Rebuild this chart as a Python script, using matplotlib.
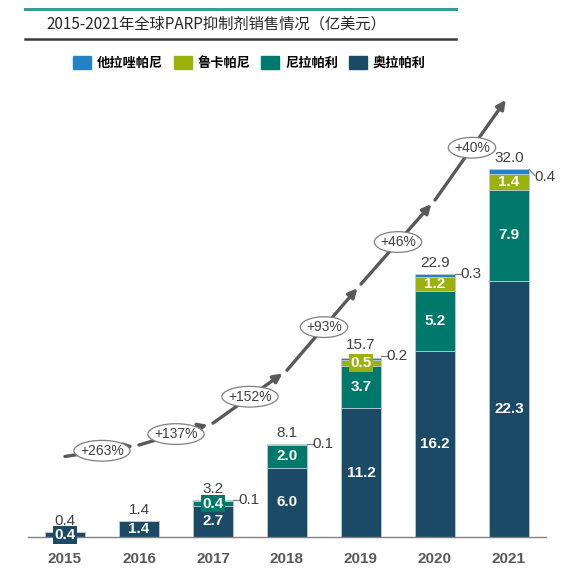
import matplotlib
matplotlib.use("Agg")
import matplotlib.pyplot as plt
from matplotlib.patches import Patch, Ellipse
from matplotlib.lines import Line2D

# data (亿美元)
years = ["2015", "2016", "2017", "2018", "2019", "2020", "2021"]
olaparib = [0.4, 1.4, 2.7, 6.0, 11.2, 16.2, 22.3]
niraparib = [0.0, 0.0, 0.4, 2.0, 3.7, 5.2, 7.9]
rucaparib = [0.0, 0.0, 0.1, 0.1, 0.5, 1.2, 1.4]
talazoparib = [0.0, 0.0, 0.0, 0.0, 0.2, 0.3, 0.4]
totals = [0.4, 1.4, 3.2, 8.1, 15.7, 22.9, 32.0]
growth = ["+263%", "+137%", "+152%", "+93%", "+46%", "+40%"]
trend_y = [7.0, 8.0, 9.9, 14.5, 22.0, 29.3, 38.4]

names = ["他拉唑帕尼", "鲁卡帕尼", "尼拉帕利", "奥拉帕利"]
colors = {"他拉唑帕尼": "#2381c4", "鲁卡帕尼": "#9bb10c",
          "尼拉帕利": "#00796d", "奥拉帕利": "#1b4a66"}

cjk = ["Noto Sans CJK SC", "DejaVu Sans"]
num_font = ["Liberation Sans Narrow", "Liberation Sans", "DejaVu Sans"]

W, H = 579, 568
fig = plt.figure(figsize=(W / 100, H / 100), dpi=100)
ax = fig.add_axes([28 / W, (H - 537) / H, 518 / W, 452 / H])
ax.set_xlim(-0.5, 6.5)
ax.set_ylim(0, 452 / 11.5)

x = list(range(len(years)))
bw = 0.55
stack = [("奥拉帕利", olaparib), ("尼拉帕利", niraparib),
         ("鲁卡帕尼", rucaparib), ("他拉唑帕尼", talazoparib)]
bottom = [0.0] * len(x)
for name, vals in stack:
    ax.bar(x, vals, bw, bottom=bottom, color=colors[name],
           edgecolor="#b9cad6", linewidth=0.6, zorder=2)
    for i, v in enumerate(vals):
        if v <= 0:
            continue
        if name == "他拉唑帕尼" or v < 0.3:
            # side label with short leader
            top = totals[i]
            xe = i + bw / 2
            if i == 6:
                ax.plot([xe, xe + 0.07], [top - 0.05, top - 0.55],
                        color="#7f7f7f", lw=0.9, zorder=3)
                ax.text(xe + 0.07, top - 0.7, f"{v:.1f}", ha="left", va="center",
                        fontsize=11, color="#404040", family=num_font)
            else:
                ax.plot([xe, xe + 0.07], [top, top], color="#7f7f7f", lw=0.9,
                        zorder=3)
                ax.text(xe + 0.07, top, f"{v:.1f}", ha="left", va="center",
                        fontsize=11, color="#404040", family=num_font)
        else:
            box = None
            if v < 1.0:
                box = dict(boxstyle="square,pad=0.12", fc=colors[name], ec="none")
            ax.text(i, bottom[i] + v / 2, f"{v:.1f}", ha="center", va="center",
                    fontsize=11, color="white", fontweight="bold",
                    family=num_font, bbox=box, zorder=4)
    bottom = [b + v for b, v in zip(bottom, vals)]

for i, t in enumerate(totals):
    ax.text(i, t + 0.35, f"{t:.1f}", ha="center", va="bottom", fontsize=11,
            color="#404040", family=num_font)

# growth trend arrows with ellipse labels
for i in range(len(trend_y) - 1):
    ax.annotate("", xy=(i + 1, trend_y[i + 1]), xytext=(i, trend_y[i]),
                arrowprops=dict(arrowstyle="-|>", color="#595959", lw=2.4,
                                mutation_scale=13, shrinkA=0, shrinkB=4),
                annotation_clip=False, zorder=5)
    xm = i + 0.5
    ym = (trend_y[i] + trend_y[i + 1]) / 2
    ew = 0.76 if len(growth[i]) > 4 else 0.64
    ax.add_patch(Ellipse((xm, ym), ew, 1.8, fc="white", ec="#7f7f7f",
                         lw=0.9, zorder=6))
    ax.text(xm, ym, growth[i], ha="center", va="center", fontsize=10,
            color="#404040", family=num_font, zorder=7)

for s in ["top", "right", "left"]:
    ax.spines[s].set_visible(False)
ax.spines["bottom"].set_color("#808080")
ax.spines["bottom"].set_linewidth(1.0)
ax.set_yticks([])
ax.set_xticks(x)
ax.set_xticklabels(years, fontsize=11, color="#595959", fontweight="bold",
                   family=num_font)
ax.tick_params(axis="x", length=0, pad=11)

# title block
fig.add_artist(Line2D([25 / W, 456 / W], [1 - 9 / H, 1 - 9 / H],
                      color="#3a9b96", lw=2.2))
fig.add_artist(Line2D([25 / W, 456 / W], [1 - 39 / H, 1 - 39 / H],
                      color="#3a3a3a", lw=1.8))
fig.text(46 / W, 1 - 24 / H, "2015-2021年全球PARP抑制剂销售情况（亿美元）",
         fontsize=11, color="#262626", va="center", ha="left", family=cjk,
         fontweight="medium")

handles = [Patch(color=colors[n]) for n in names]
leg = fig.legend(handles, names, loc="center left",
                 bbox_to_anchor=(73 / W, 1 - 63 / H), ncol=4, frameon=False,
                 prop={"family": cjk, "size": 9.5, "weight": "bold"},
                 handlelength=1.36, handleheight=1.15, handletextpad=0.45,
                 columnspacing=0.8, borderaxespad=0, borderpad=0)

fig.savefig("out.png", dpi=100)
